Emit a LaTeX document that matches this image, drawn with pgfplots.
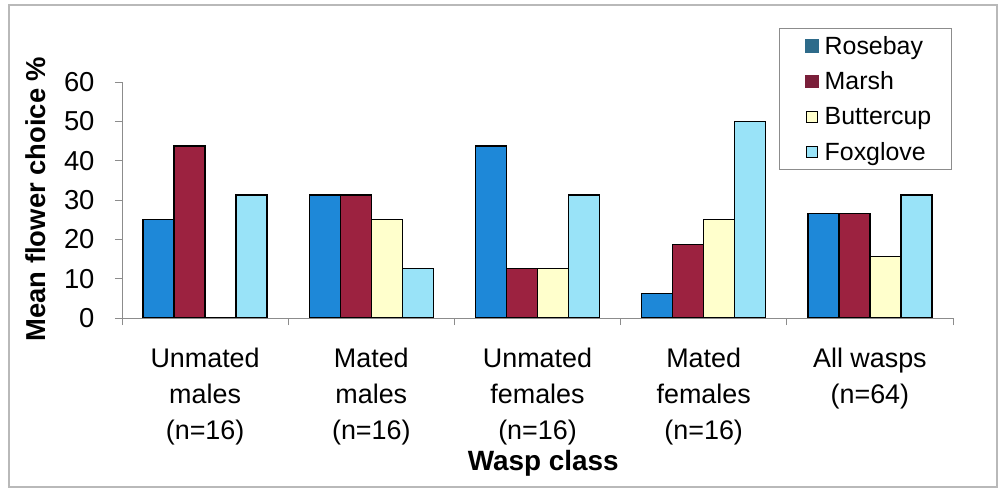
\documentclass[border=0pt]{standalone}
\usepackage{pgfplots}
\pgfplotsset{compat=1.18}
\usepackage{fontspec}
\setmainfont{Liberation Sans}
\definecolor{rose}{HTML}{1E88D8}
\definecolor{roseleg}{HTML}{2E6B8A}
\definecolor{marsh}{HTML}{9C2240}
\definecolor{marshleg}{HTML}{7A1F3A}
\definecolor{butter}{HTML}{FFFFCC}
\definecolor{fox}{HTML}{99E3F8}
\definecolor{axgray}{HTML}{8C8C8C}
\begin{document}
\begin{tikzpicture}
\path[use as bounding box] (0,0) rectangle (1003bp,493bp);
\draw[gray!55, line width=1.2bp] (9bp,6bp) rectangle (997bp,488bp);
\begin{axis}[
  at={(122bp,175bp)}, anchor=south west,
  scale only axis, width=831bp, height=236bp,
  ybar=0pt, bar width=31bp,
  xmin=0, xmax=5, ymin=0, ymax=60,
  axis x line*=bottom, axis y line*=left,
  axis line style={axgray, line width=0.8bp},
  xtick={0,1,2,3,4,5},
  x tick label as interval=true,
  xticklabels={{Unmated\\males\\(n=16)},{Mated\\males\\(n=16)},{Unmated\\females\\(n=16)},{Mated\\females\\(n=16)},{All wasps\\(n=64)}},
  x tick label style={align=center, font=\fontsize{27}{36.5}\selectfont, anchor=north, yshift=-19bp},
  ytick={0,10,...,60},
  y tick label style={font=\fontsize{27.5}{30}\selectfont, xshift=-17bp},
  /pgf/number format/assume math mode=true,
  tick align=outside, major tick length=7bp,
  tick style={axgray, line width=0.8bp},
  ylabel={\bfseries Mean flower choice \%},
  ylabel style={at={(axis description cs:-0.1035,0.504)}, anchor=center, font=\fontsize{27.5}{30}\selectfont},
  xlabel={\bfseries Wasp class},
  xlabel style={at={(axis description cs:0.507,-0.615)}, anchor=center, font=\fontsize{28}{30}\selectfont},
  legend style={at={(0.7906,1.229)}, anchor=north west, draw=axgray, line width=0.8bp,
    font=\fontsize{25}{28}\selectfont, row sep=12bp, inner xsep=18bp, inner ysep=6bp,
    /tikz/every odd column/.append style={column sep=4bp},
    cells={anchor=west}, legend cell align=left},
  every axis plot/.append style={draw=black, line width=1.3bp},
]
\addplot[fill=rose, legend image code/.code={\path (0bp,0bp); \fill[roseleg] (8bp,-6bp) rectangle (20bp,6bp);}]
  coordinates {(0.5,25) (1.5,31.25) (2.5,43.75) (3.5,6.25) (4.5,26.56)};
\addlegendentry{Rosebay}
\addplot[fill=marsh, legend image code/.code={\path (0bp,0bp); \fill[marshleg] (8bp,-6bp) rectangle (20bp,6bp);}]
  coordinates {(0.5,43.75) (1.5,31.25) (2.5,12.5) (3.5,18.75) (4.5,26.56)};
\addlegendentry{Marsh}
\addplot[fill=butter, legend image code/.code={\path (0bp,0bp); \draw[black, fill=butter, line width=1.2bp] (8.5bp,-5.5bp) rectangle (19.5bp,5.5bp);}]
  coordinates {(0.5,0) (1.5,25) (2.5,12.5) (3.5,25) (4.5,15.63)};
\addlegendentry{Buttercup}
\addplot[fill=fox, legend image code/.code={\path (0bp,0bp); \draw[black, fill=fox, line width=1.2bp] (8.5bp,-5.5bp) rectangle (19.5bp,5.5bp);}]
  coordinates {(0.5,31.25) (1.5,12.5) (2.5,31.25) (3.5,50) (4.5,31.25)};
\addlegendentry{Foxglove}
\end{axis}
\end{tikzpicture}
\end{document}
